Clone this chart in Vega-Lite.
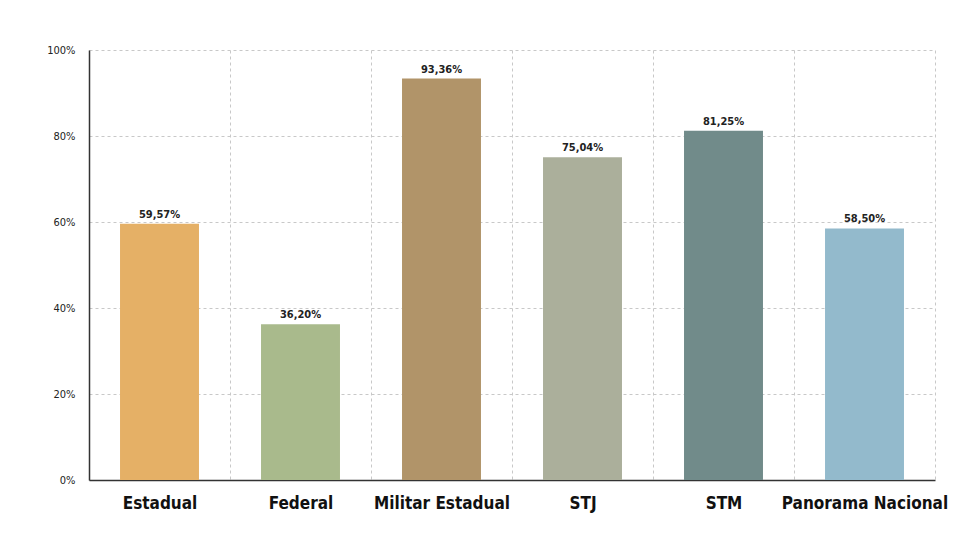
{
  "$schema": "https://vega.github.io/schema/vega-lite/v6.json",
  "width": 846,
  "height": 430,
  "autosize": {"type": "none"},
  "padding": {"left": 89, "top": 50, "right": 31, "bottom": 58},
  "background": "white",
  "config": {
    "locale": {"number": {"decimal": ",", "thousands": ".", "grouping": [3], "currency": ["R$", ""]}},
    "view": {"stroke": null},
    "axis": {"zindex": 1, "gridColor": "#c8c8c8", "gridDash": [3, 3], "gridWidth": 1, "domainColor": "#333333", "domainWidth": 1.5, "ticks": false}
  },
  "data": {
    "values": [
      {"categoria": "Estadual", "valor": 0.5957, "cor": "#E5B066"},
      {"categoria": "Federal", "valor": 0.3620, "cor": "#A9BA8C"},
      {"categoria": "Militar Estadual", "valor": 0.9336, "cor": "#B19469"},
      {"categoria": "STJ", "valor": 0.7504, "cor": "#ABAF9B"},
      {"categoria": "STM", "valor": 0.8125, "cor": "#718B8A"},
      {"categoria": "Panorama Nacional", "valor": 0.5850, "cor": "#93BACC"}
    ]
  },
  "encoding": {
    "x": {
      "field": "categoria", "type": "nominal", "sort": null,
      "scale": {"paddingInner": 0, "paddingOuter": 0},
      "axis": {"title": null, "labelAngle": 0, "tickBand": "extent", "grid": true, "labelFont": "DejaVu Sans Condensed, sans-serif", "labelFontSize": 17, "labelFontWeight": "bold", "labelColor": "#111111", "labelPadding": 15}
    },
    "y": {
      "field": "valor", "type": "quantitative",
      "scale": {"domain": [0, 1]},
      "axis": {"title": null, "format": ".0%", "values": [0, 0.2, 0.4, 0.6, 0.8, 1], "grid": true, "labelFont": "DejaVu Sans Condensed, sans-serif", "labelFontSize": 11, "labelColor": "#222222", "labelPadding": 14}
    }
  },
  "layer": [
    {
      "mark": {"type": "bar", "width": {"band": 0.56}},
      "encoding": {"color": {"field": "cor", "type": "nominal", "scale": null}}
    },
    {
      "mark": {"type": "text", "baseline": "bottom", "dy": -4, "font": "DejaVu Sans Condensed, sans-serif", "fontSize": 11, "fontWeight": "bold", "color": "#222222"},
      "encoding": {"text": {"field": "valor", "type": "quantitative", "format": ".2%"}}
    }
  ]
}
